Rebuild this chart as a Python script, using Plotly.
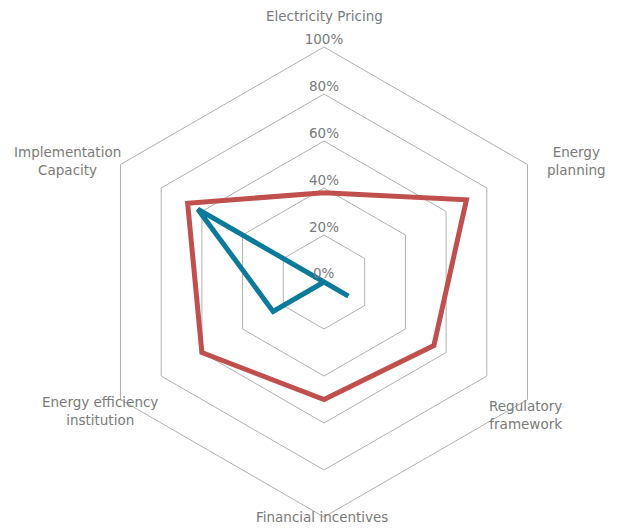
import math
import plotly.graph_objects as go

# Assessment dimensions (clockwise from the top)
categories = [
    "Electricity Pricing",
    "Energy planning",
    "Regulatory framework",
    "Financial incentives",
    "Energy efficiency institution",
    "Implementation Capacity",
]
category_labels = [
    "Electricity Pricing",
    "Energy<br>planning",
    "Regulatory<br>framework",
    "Financial incentives",
    "Energy efficiency<br>institution",
    "Implementation<br>Capacity",
]

# Scores as fractions of 100%
series_red = [0.38, 0.70, 0.54, 0.50, 0.60, 0.67]
series_blue = [0.0, 0.0, 0.12, 0.0, 0.25, 0.62]

tick_values = [0.0, 0.2, 0.4, 0.6, 0.8, 1.0]
tick_labels = ["0%", "20%", "40%", "60%", "80%", "100%"]

TEXT = "#7a7a7a"
GRID = "#b0b0b0"
FONT = "DejaVu Sans"
FSIZE = 13.5


def closed(values):
    return list(values) + [values[0]]


fig = go.Figure()

fig.add_trace(go.Scatterpolar(
    r=closed(series_red), theta=closed(categories),
    mode="lines", line=dict(color="#C0504D", width=5),
    hoverinfo="skip", showlegend=False,
))
fig.add_trace(go.Scatterpolar(
    r=closed(series_blue), theta=closed(categories),
    mode="lines", line=dict(color="#0B7A9B", width=5),
    hoverinfo="skip", showlegend=False,
))

# Percentage labels along the top spoke (the centre one is added below)
fig.add_trace(go.Scatterpolar(
    r=tick_values[1:], theta=[categories[0]] * (len(tick_values) - 1),
    mode="text", text=tick_labels[1:], textposition="top center",
    textfont=dict(family=FONT, size=FSIZE, color=TEXT),
    hoverinfo="skip", showlegend=False, cliponaxis=False,
))

W, H = 618, 530
cx, cy, R = 324, 282, 235

annotations = [dict(
    x=cx / W, y=1 - (cy - R * tick_values[0]) / H, xref="paper", yref="paper",
    text=tick_labels[0], showarrow=False, xanchor="center", yanchor="bottom",
    yshift=-1, font=dict(family=FONT, size=FSIZE, color=TEXT),
)]

# Category labels placed around the outer ring: (radius factor, dx, dy) in px
label_place = [
    (1.0, 0, -31),
    (1.0, 49, -4),
    (1.0, -2, 16),
    (1.0, -2, 0),
    (1.0, -20, 11),
    (1.0, -53, -3),
]
n = len(categories)
for i, (lab, (k, dx, dy)) in enumerate(zip(category_labels, label_place)):
    ang = 2 * math.pi * i / n
    px = cx + k * R * math.sin(ang) + dx
    py = cy - k * R * math.cos(ang) + dy
    annotations.append(dict(
        x=px / W, y=1 - py / H, xref="paper", yref="paper",
        text=lab, showarrow=False, align="center",
        xanchor="center", yanchor="middle",
        font=dict(family=FONT, size=FSIZE, color=TEXT),
    ))

fig.update_layout(
    width=W, height=H,
    margin=dict(l=0, r=0, t=0, b=0),
    paper_bgcolor="white", plot_bgcolor="white",
    font=dict(family=FONT, color=TEXT),
    showlegend=False,
    annotations=annotations,
    polar=dict(
        domain=dict(x=[(cx - R) / W, (cx + R) / W],
                    y=[(H - cy - R) / H, (H - cy + R) / H]),
        bgcolor="white",
        gridshape="linear",
        radialaxis=dict(
            range=[0, 1], tickvals=tick_values, showticklabels=False,
            ticks="", showline=False, gridcolor=GRID, gridwidth=1,
        ),
        angularaxis=dict(
            categoryarray=categories, categoryorder="array",
            direction="clockwise", rotation=90,
            showticklabels=False, ticks="", showgrid=False,
            showline=True, linecolor=GRID, linewidth=1,
        ),
    ),
)

fig.write_html("out.html")
